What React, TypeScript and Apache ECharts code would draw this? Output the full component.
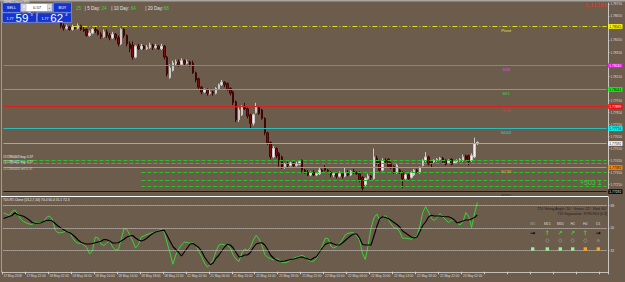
import React, { useEffect, useRef } from 'react';
import * as echarts from 'echarts';

// ---------- data ----------
const candles: number[][] = [
  [1.7868,1.7870,1.7867,1.7872],[1.7870,1.7867,1.7866,1.7871],[1.7867,1.7869,1.7866,1.7870],[1.7869,1.7866,1.7865,1.7870],
  [1.7866,1.7867,1.7864,1.7868],[1.7867,1.7868,1.7866,1.7869],[1.7868,1.7865,1.7864,1.7869],[1.7865,1.7867,1.7864,1.7868],
  [1.7867,1.7866,1.7864,1.7868],[1.7866,1.7869,1.7865,1.7871],[1.7869,1.7868,1.7867,1.7871],[1.7868,1.7866,1.7864,1.7869],
  [1.7866,1.7867,1.7865,1.7868],[1.7867,1.7865,1.7864,1.7868],[1.7865,1.7866,1.7864,1.7867],[1.7866,1.7864,1.7863,1.7867],
  [1.7864,1.7866,1.7863,1.7867],[1.7866,1.7864,1.7863,1.7867],[1.7864,1.7862,1.7861,1.7865],[1.7862,1.7861,1.7860,1.7863],
  [1.7861,1.7857,1.7855,1.7862],[1.7857,1.7855,1.7853,1.7859],[1.7855,1.7856,1.7854,1.7858],[1.7856,1.7854,1.7853,1.7857],
  [1.7854,1.7856,1.7853,1.7858],[1.7856,1.7855,1.7854,1.7857],[1.7855,1.7857,1.7854,1.7859],[1.7857,1.7854,1.7853,1.7858],
  [1.7854,1.7853,1.7852,1.7856],[1.7854,1.7849,1.7848,1.7855],[1.7849,1.7851,1.7848,1.7853],[1.7851,1.7854,1.7850,1.7855],
  [1.7854,1.7853,1.7851,1.7856],[1.7853,1.7850,1.7849,1.7854],[1.7850,1.7848,1.7846,1.7852],[1.7848,1.7852,1.7847,1.7854],
  [1.7852,1.7849,1.7847,1.7854],[1.7849,1.7847,1.7845,1.7851],[1.7847,1.7850,1.7846,1.7852],[1.7850,1.7847,1.7845,1.7851],
  [1.7847,1.7842,1.7840,1.7849],[1.7842,1.7854,1.7841,1.7855],[1.7854,1.7849,1.7847,1.7855],[1.7849,1.7842,1.7840,1.7850],
  [1.7842,1.7838,1.7835,1.7844],[1.7841,1.7831,1.7829,1.7844],[1.7831,1.7840,1.7830,1.7841],[1.7840,1.7838,1.7837,1.7842],
  [1.7838,1.7840,1.7837,1.7842],[1.7840,1.7838,1.7837,1.7841],[1.7838,1.7839,1.7837,1.7841],[1.7839,1.7841,1.7838,1.7843],
  [1.7841,1.7839,1.7837,1.7842],[1.7839,1.7840,1.7838,1.7842],[1.7840,1.7838,1.7837,1.7841],[1.7838,1.7840,1.7837,1.7842],
  [1.7840,1.7831,1.7829,1.7841],[1.7831,1.7817,1.7815,1.7832],[1.7814,1.7822,1.7813,1.7825],[1.7820,1.7826,1.7819,1.7828],
  [1.7826,1.7827,1.7824,1.7829],[1.7827,1.7825,1.7823,1.7829],[1.7825,1.7828,1.7824,1.7830],[1.7828,1.7826,1.7824,1.7829],
  [1.7826,1.7827,1.7825,1.7829],[1.7827,1.7825,1.7823,1.7828],[1.7826,1.7818,1.7817,1.7828],[1.7818,1.7812,1.7810,1.7819],
  [1.7813,1.7806,1.7804,1.7814],[1.7806,1.7802,1.7800,1.7807],[1.7802,1.7804,1.7801,1.7805],[1.7804,1.7801,1.7799,1.7805],
  [1.7801,1.7802,1.7800,1.7804],[1.7802,1.7801,1.7799,1.7803],[1.7801,1.7805,1.7800,1.7806],[1.7805,1.7808,1.7804,1.7809],
  [1.7808,1.7810,1.7807,1.7812],[1.7810,1.7808,1.7806,1.7811],[1.7809,1.7804,1.7803,1.7810],[1.7805,1.7801,1.7799,1.7806],
  [1.7802,1.7793,1.7791,1.7803],[1.7794,1.7779,1.7777,1.7795],[1.7779,1.7787,1.7777,1.7789],[1.7783,1.7789,1.7782,1.7791],
  [1.7789,1.7788,1.7787,1.7793],[1.7788,1.7782,1.7780,1.7789],[1.7783,1.7776,1.7772,1.7784],[1.7776,1.7783,1.7774,1.7784],
  [1.7785,1.7789,1.7784,1.7793],[1.7789,1.7784,1.7783,1.7790],[1.7787,1.7780,1.7779,1.7788],[1.7780,1.7768,1.7766,1.7781],
  [1.7768,1.7760,1.7758,1.7769],[1.7760,1.7748,1.7746,1.7761],[1.7748,1.7755,1.7747,1.7757],[1.7755,1.7749,1.7747,1.7756],
  [1.7751,1.7745,1.7740,1.7752],[1.7748,1.7739,1.7738,1.7749],[1.7740,1.7742,1.7738,1.7743],[1.7742,1.7741,1.7739,1.7744],
  [1.7741,1.7743,1.7740,1.7744],[1.7743,1.7741,1.7739,1.7744],[1.7741,1.7742,1.7740,1.7744],[1.7742,1.7744,1.7741,1.7745],
  [1.7745,1.7737,1.7735,1.7746],[1.7737,1.7735,1.7734,1.7738],[1.7735,1.7733,1.7732,1.7737],[1.7733,1.7735,1.7732,1.7736],
  [1.7735,1.7733,1.7732,1.7737],[1.7733,1.7734,1.7732,1.7735],[1.7734,1.7737,1.7733,1.7739],[1.7737,1.7736,1.7735,1.7738],
  [1.7739,1.7737,1.7736,1.7741],[1.7737,1.7736,1.7735,1.7738],[1.7735,1.7733,1.7731,1.7736],[1.7733,1.7734,1.7731,1.7735],
  [1.7734,1.7732,1.7730,1.7735],[1.7732,1.7734,1.7731,1.7736],[1.7734,1.7732,1.7730,1.7735],[1.7732,1.7735,1.7731,1.7739],
  [1.7735,1.7733,1.7732,1.7737],[1.7733,1.7736,1.7732,1.7737],[1.7736,1.7735,1.7734,1.7738],[1.7735,1.7734,1.7733,1.7736],
  [1.7734,1.7729,1.7727,1.7736],[1.7731,1.7722,1.7720,1.7732],[1.7725,1.7730,1.7723,1.7731],[1.7730,1.7732,1.7729,1.7734],
  [1.7732,1.7731,1.7729,1.7733],[1.7730,1.7748,1.7729,1.7755],[1.7747,1.7743,1.7741,1.7749],[1.7744,1.7737,1.7736,1.7745],
  [1.7737,1.7745,1.7736,1.7747],[1.7745,1.7744,1.7743,1.7747],[1.7746,1.7740,1.7739,1.7747],[1.7743,1.7739,1.7738,1.7744],
  [1.7740,1.7735,1.7734,1.7741],[1.7735,1.7741,1.7734,1.7742],[1.7737,1.7735,1.7734,1.7738],[1.7735,1.7730,1.7722,1.7736],
  [1.7730,1.7733,1.7729,1.7734],[1.7733,1.7730,1.7729,1.7734],[1.7731,1.7735,1.7730,1.7736],[1.7733,1.7737,1.7732,1.7738],
  [1.7737,1.7736,1.7735,1.7738],[1.7735,1.7739,1.7734,1.7740],[1.7741,1.7745,1.7740,1.7746],[1.7745,1.7748,1.7744,1.7752],
  [1.7748,1.7742,1.7741,1.7749],[1.7744,1.7743,1.7739,1.7745],[1.7744,1.7745,1.7743,1.7746],[1.7745,1.7746,1.7744,1.7747],
  [1.7746,1.7747,1.7745,1.7748],[1.7747,1.7744,1.7743,1.7748],[1.7745,1.7742,1.7741,1.7746],[1.7743,1.7745,1.7742,1.7746],
  [1.7746,1.7742,1.7741,1.7747],[1.7743,1.7744,1.7742,1.7745],[1.7744,1.7745,1.7743,1.7746],[1.7745,1.7746,1.7744,1.7747],
  [1.7745,1.7748,1.7744,1.7750],[1.7749,1.7746,1.7745,1.7750],[1.7749,1.7744,1.7741,1.7750],[1.7745,1.7749,1.7744,1.7751],
  [1.7748,1.7759,1.7747,1.7764],[1.7759,1.7760,1.7758,1.7761],
];

const tdiGreen = [
  62.0,61.2,60.0,63.2,64.4,60.8,57.2,55.2,54.0,53.2,
  52.8,54.8,54.4,54.0,55.2,58.6,59.6,57.2,48.4,46.2,
  46.2,46.8,47.6,46.8,42.4,39.2,37.8,37.8,36.4,34.4,
  29.2,32.0,42.8,42.0,37.2,36.0,38.0,39.6,34.8,32.4,
  32.8,40.8,49.6,48.8,44.4,39.6,34.0,36.8,42.8,43.8,
  44.8,45.6,46.4,46.8,48.0,48.8,46.8,38.0,30.0,21.0,
  28.4,33.2,36.4,38.8,38.4,37.8,38.0,36.0,31.2,27.2,
  22.0,18.8,20.8,24.4,31.2,36.4,37.2,36.4,36.0,34.0,
  28.4,24.8,23.2,30.0,33.2,32.0,34.4,40.4,44.2,41.2,
  36.0,28.8,26.4,25.6,24.4,25.8,24.6,22.4,22.2,23.0,
  24.4,25.8,26.6,27.4,28.2,26.8,24.4,23.6,23.4,25.8,
  30.0,35.6,41.8,41.6,35.6,34.0,35.2,37.6,40.4,44.6,
  45.8,46.2,46.2,43.6,40.4,29.6,24.8,36.4,50.0,58.0,
  61.2,56.4,58.4,60.0,57.2,53.2,50.2,49.8,46.8,41.8,
  41.8,41.6,41.0,42.6,43.6,51.6,62.4,67.2,62.8,57.6,
  56.0,58.4,61.6,59.0,56.4,54.4,56.4,56.4,53.8,52.4,
  55.0,62.4,59.2,50.4,61.2,70.4,
];

const tdiBlack = [
  57.6,58.4,59.2,60.0,62.2,60.6,60.0,59.4,58.0,56.4,
  54.4,53.8,53.8,54.0,55.2,56.0,56.2,55.6,53.6,51.6,
  50.0,48.6,47.2,46.4,44.8,42.8,40.4,38.6,37.6,37.2,
  37.2,37.6,38.2,38.8,39.4,40.8,40.6,39.6,38.0,38.0,
  38.2,39.6,41.0,42.8,43.6,44.0,42.0,40.4,39.6,40.4,
  42.0,44.0,45.6,46.8,47.4,48.0,48.2,44.0,39.6,35.2,
  32.8,30.4,27.6,30.8,34.0,37.2,37.6,36.0,34.4,31.6,
  26.8,23.6,20.6,22.0,25.8,28.2,31.6,34.8,37.0,36.4,
  34.0,30.4,26.8,27.2,28.4,28.4,30.4,34.4,37.2,38.0,
  38.2,36.4,32.8,28.4,26.0,24.4,23.6,23.2,23.6,24.2,
  24.8,25.2,25.8,26.6,26.8,26.0,25.2,24.4,26.0,27.0,
  30.4,34.0,36.8,38.0,38.2,37.2,36.4,36.4,38.0,40.0,
  42.0,44.0,45.2,45.2,42.0,36.8,36.4,36.4,36.4,43.6,
  51.2,57.2,59.0,58.4,57.6,56.0,54.4,52.8,50.8,47.6,
  46.0,44.4,42.8,42.0,42.8,47.2,52.0,54.8,58.8,60.2,
  59.6,59.6,59.6,59.2,59.0,59.0,58.0,56.4,54.0,54.8,
  55.6,56.4,56.4,57.2,58.4,60.4,
];

const timeLabels = [
  '17 May 2018','17 May 22:00','18 May 02:00','18 May 06:00','18 May 10:00','18 May 14:00','18 May 18:00',
  '18 May 22:00','21 May 02:00','21 May 06:00','21 May 10:00','21 May 14:00','21 May 18:00','21 May 22:00',
  '22 May 02:00','22 May 06:00','22 May 10:00','22 May 14:00','22 May 18:00','22 May 22:00','23 May 02:00',
];

// price-scale ticks; the labels under the level boxes are hidden in the reference
const priceTicks = [1.7875,1.7865,1.7855,1.7845,1.7835,1.7825,1.7815,1.7805,1.7795,1.7785,1.7775,1.7765,1.7755,1.7745,1.7735,1.7725];
const priceTickLabels = [1.7875,1.7865,1.7845,1.7835,1.7815,1.7795,1.7785,1.7775,1.7765,1.7755,1.7745,1.7735,1.7725];

const fibNames = ['Pivot','S38','S61','S78','S100','S138','S161'];
const fibLevels = [1.78565,1.78240,1.78041,1.77899,1.77716,1.77392,1.77192];
const bidPrice = 1.77592;
const orderLevelsFull = [1.77450,1.77425];
const orderLevelsPartial = [1.77350,1.77284,1.77234];
const tdiLevels = [68,50,32];

const tfNames = ['M5','M15','M30','H1','H4','D1'];
const tfArrows = ['→','↑','↗','↗','↑','→'];
const tfBoxes = ['up','up','up','up','down','down'];

// ---------- styles / layout ----------
const FONT = '"Liberation Sans", Arial, sans-serif';
const BG = '#6c5c4c';
const SLOTS = 211;
const PIVOT_START = 24;
const PARTIAL_START = 48;
const NAME_SLOT = 175;
const fibStyles = [
  { line: '#dcdc20', type: [5, 2, 1, 2], text: '#e6e63a', box: '#ffff00', boxText: '#000' },
  { line: '#dc48dc', type: 'solid', text: '#d455d4', box: '#ff00ff', boxText: '#fff' },
  { line: '#46c846', type: 'solid', text: '#4cc84c', box: '#00ff00', boxText: '#000' },
  { line: '#dc1e1e', type: 'solid', text: '#e03434', box: '#ff0000', boxText: '#fff' },
  { line: '#2cbcbc', type: 'solid', text: '#44cccc', box: '#00ffff', boxText: '#000' },
  { line: '#e08c2c', type: 'solid', text: '#eb9c42', box: '#ff8c00', boxText: '#000' },
  { line: '#1a1a1a', type: 'solid', text: '#1c1c1c', box: '#000000', boxText: '#fff' },
];
const tfX = [532.7, 547.3, 560.3, 572.7, 585.3, 598.3];

export default function App() {
  const ref = useRef<HTMLDivElement>(null);
  useEffect(() => {
    if (!ref.current) return;
    const chart = echarts.init(ref.current, undefined, { renderer: 'svg' });
    const cats = Array.from({ length: SLOTS }, (_, i) => String(i));

    const boxLabel = (v: number, box: string, txt: string) => ({
      show: true, position: 'end', distance: 1.6, formatter: v.toFixed(5), color: txt,
      backgroundColor: box, padding: [0.6, 1.2, 0.4, 1.2], fontSize: 3.3, fontFamily: FONT, lineHeight: 3.6,
    });
    const seg = (start: number, v: number, lineStyle: any, label: any) =>
      [{ coord: [start, v], lineStyle, label }, { coord: [SLOTS - 1, v] }];

    const mlData: any[] = [];
    orderLevelsFull.forEach((v) => mlData.push(seg(0, v, { color: '#27c427', width: 1, type: [4, 2] }, { show: false })));
    orderLevelsPartial.forEach((v) => mlData.push(seg(PARTIAL_START, v, { color: '#27c427', width: 1, type: [4, 2] }, { show: false })));
    mlData.push(seg(0, bidPrice, { color: '#a6a6a6', width: 1, type: 'solid' }, boxLabel(bidPrice, '#ffffff', '#000')));
    fibLevels.forEach((v, k) => {
      const s = fibStyles[k];
      mlData.push(seg(k === 0 ? PIVOT_START : 0, v, { color: s.line, type: s.type, width: 1 }, boxLabel(v, s.box, s.boxText)));
    });

    const mpData = fibLevels.map((v, k) => ({
      coord: [NAME_SLOT, v], symbol: 'circle', symbolSize: 0,
      label: { show: true, position: 'inside', offset: [0, 3.6], formatter: fibNames[k], color: fibStyles[k].text, fontSize: 4.4, fontFamily: FONT },
    }));

    const txt = (x: number, y: number, text: string, fill: string, size: number, align = 'left', extra: any = {}) => ({
      type: 'text', x, y, z: 100,
      style: { text, fill, font: `${extra.weight || 'normal'} ${size}px ${extra.family || FONT}`, textAlign: align, textVerticalAlign: 'middle' },
    });
    const BLUE = '#1434cc';
    const graphic: any[] = [
      { type: 'rect', z: 90, shape: { x: 0, y: 0, width: 625, height: 1.6 }, style: { fill: '#aba69f' } },
      { type: 'line', z: 90, shape: { x1: 1.5, y1: 1.5, x2: 1.5, y2: 272 }, style: { stroke: '#a19c95', lineWidth: 1 } },
      { type: 'line', z: 90, shape: { x1: 1, y1: 196.5, x2: 608, y2: 196.5 }, style: { stroke: '#ffffff', lineWidth: 1 } },
      // trading panel
      { type: 'rect', z: 95, shape: { x: 2.5, y: 2.8, width: 18, height: 9.6 }, style: { fill: BLUE, stroke: '#8ea4ff', lineWidth: 0.6 } },
      txt(11.5, 7.6, 'SELL', '#ffffff', 3.8, 'center'),
      { type: 'rect', z: 95, shape: { x: 21, y: 3.4, width: 31.5, height: 8.2 }, style: { fill: '#ffffff', stroke: '#5d78e8', lineWidth: 0.6 } },
      { type: 'rect', z: 96, shape: { x: 22, y: 4.6, width: 4, height: 5.8 }, style: { fill: '#e4e4e4', stroke: '#8a8a8a', lineWidth: 0.4 } },
      { type: 'rect', z: 96, shape: { x: 47.5, y: 4.6, width: 4, height: 5.8 }, style: { fill: '#e4e4e4', stroke: '#8a8a8a', lineWidth: 0.4 } },
      txt(24, 7.5, '-', '#222', 4, 'center'),
      txt(49.5, 7.5, '+', '#222', 4, 'center'),
      txt(37, 7.6, '0.57', '#111111', 4, 'center'),
      { type: 'rect', z: 95, shape: { x: 53.5, y: 2.8, width: 18, height: 9.6 }, style: { fill: BLUE, stroke: '#8ea4ff', lineWidth: 0.6 } },
      txt(62.5, 7.6, 'BUY', '#ffffff', 3.8, 'center'),
      { type: 'rect', z: 95, shape: { x: 2.5, y: 12.8, width: 34, height: 9.6 }, style: { fill: BLUE, stroke: '#8ea4ff', lineWidth: 0.6 } },
      { type: 'rect', z: 95, shape: { x: 37.3, y: 12.8, width: 34.3, height: 9.6 }, style: { fill: BLUE, stroke: '#8ea4ff', lineWidth: 0.6 } },
      txt(6.5, 18.8, '1.77', '#ffffff', 3.6),
      txt(15.5, 17.8, '59', '#ffffff', 11.5),
      txt(30.5, 15.4, '3', '#ffffff', 3.8),
      txt(41.5, 18.8, '1.77', '#ffffff', 3.6),
      txt(50.3, 17.8, '62', '#ffffff', 11.5),
      txt(65.3, 15.4, '4', '#ffffff', 3.8),
      txt(3, 1.4, 'GBPAUDmicro,M30', '#ececec', 3),
      // day range
      txt(76, 8.4, '25', '#3ed23e', 4.5),
      txt(84.8, 8.4, '| 5 Day:', '#e2e2e2', 4.5),
      txt(101.4, 8.4, '24', '#3ed23e', 4.5),
      txt(111.3, 8.4, '| 10 Day:', '#e2e2e2', 4.5),
      txt(130.8, 8.4, '64', '#3ed23e', 4.5),
      txt(145.3, 8.4, '| 20 Day:', '#e2e2e2', 4.5),
      txt(163.8, 8.4, '68', '#3ed23e', 4.5),
      // top right red value
      txt(607, 5.4, '1.11561', '#ff2a2a', 7, 'right', { family: '"Liberation Serif", serif' }),
      // order labels
      txt(3, 157.3, '#17280443 buy 0.37', '#f2f2f2', 3.3),
      txt(3, 162.2, '#17280442 buy 0.37', '#f2f2f2', 3.3),
      txt(3, 168.8, '#17280444 sell 0.37', '#c9c9c9', 3.3),
      txt(580, 182, '+503 1', '#3ec83e', 7),
      // indicator texts
      txt(3, 200.3, 'TDI-RT-Clone (13,2,7,34) 70.4 60.4 55.1 72.3', '#e6e6e6', 3.3),
      txt(607, 208.8, 'TDI Voting Angle: 50°  Green: 22°  Red: 60°', '#1e1e1e', 3.6, 'right'),
      txt(607, 214.3, 'TDI Separation: STRONG [0.3]', '#1e1e1e', 3.6, 'right'),
    ];
    tfNames.forEach((n, k) => {
      const x = tfX[k];
      graphic.push(txt(x, 224.3, n, k === 0 ? '#a9a097' : '#d6d6d6', 3.5, 'center'));
      graphic.push(txt(x, 232.3, tfArrows[k], tfArrows[k] === '→' ? '#000000' : '#22e022', 6, 'center', { weight: 'bold', family: '"DejaVu Sans", sans-serif' }));
      if (k === 0) graphic.push(txt(x, 240.6, '+', '#8d8d8d', 4, 'center'));
      else if (k === 5) graphic.push({ type: 'circle', z: 100, shape: { cx: x, cy: 240.6, r: 1.7 }, style: { fill: '#7b7b7b' } });
      else graphic.push({ type: 'circle', z: 100, shape: { cx: x, cy: 240.6, r: 1.6 }, style: { fill: 'none', stroke: '#8e8e8e', lineWidth: 0.8 } });
      graphic.push({ type: 'rect', z: 100, shape: { x: x - 1.7, y: 247.3, width: 3.4, height: 3.4 }, style: { fill: tfBoxes[k] === 'up' ? '#98f098' : '#ffa31a' } });
    });

    const option: any = {
      animation: false,
      backgroundColor: BG,
      textStyle: { fontFamily: FONT },
      grid: [
        { left: 2, top: 3, width: 606, height: 190 },
        { left: 2, top: 196.75, width: 606, height: 75 },
      ],
      xAxis: [
        { type: 'category', gridIndex: 0, data: cats, boundaryGap: true, axisLine: { show: false }, axisTick: { show: false }, axisLabel: { show: false }, splitLine: { show: false } },
        {
          type: 'category', gridIndex: 1, data: cats, boundaryGap: true,
          axisLine: { show: true, lineStyle: { color: '#c2bdb6', width: 1 } },
          axisTick: { show: true, interval: 7, length: 2.5, lineStyle: { color: '#d0d0d0' } },
          axisLabel: { show: true, interval: 7, align: 'left', margin: 2.6, fontSize: 3.2, color: '#dcdcdc', fontFamily: FONT,
            formatter: (_v: string, i: number) => timeLabels[i / 8] ?? '' },
          splitLine: { show: false },
        },
      ],
      yAxis: [
        {
          type: 'value', gridIndex: 0, position: 'right', min: 1.7718, max: 1.7876,
          axisLine: { show: true, lineStyle: { color: '#c9c5bf', width: 1 } },
          axisTick: { show: true, length: 1.5, customValues: priceTicks, lineStyle: { color: '#c9c5bf' } },
          axisLabel: { show: true, customValues: priceTickLabels, formatter: (v: number) => v.toFixed(5), fontSize: 3.2, color: '#dcdcdc', margin: 2.4, fontFamily: FONT },
          splitLine: { show: false },
        },
        {
          type: 'value', gridIndex: 1, position: 'right', min: 15, max: 75,
          axisLine: { show: true, lineStyle: { color: '#c9c5bf', width: 1 } },
          axisTick: { show: true, length: 1.5, customValues: tdiLevels, lineStyle: { color: '#c9c5bf' } },
          axisLabel: { show: true, customValues: tdiLevels, formatter: (v: number) => String(v), fontSize: 3.4, color: '#dcdcdc', margin: 2.4, fontFamily: FONT },
          splitLine: { show: false },
        },
      ],
      series: [
        {
          type: 'candlestick', xAxisIndex: 0, yAxisIndex: 0, data: candles, barWidth: 2,
          itemStyle: { color: '#f2f2f2', color0: '#7e0c0c', borderColor: '#c9c9c9', borderColor0: '#3e0707', borderWidth: 1 },
          markLine: { silent: true, symbol: ['none', 'none'], animation: false, data: mlData },
          markPoint: { silent: true, animation: false, data: mpData },
          z: 3,
        },
        {
          type: 'line', xAxisIndex: 1, yAxisIndex: 1, data: tdiGreen, showSymbol: false, symbol: 'none',
          lineStyle: { color: '#3bd23b', width: 1 },
          markLine: { silent: true, symbol: ['none', 'none'], animation: false, label: { show: false },
            lineStyle: { color: '#d2d2d2', type: 'dotted', width: 1 }, data: tdiLevels.map((v) => seg(0, v, undefined, { show: false })) },
        },
        {
          type: 'line', xAxisIndex: 1, yAxisIndex: 1, data: tdiBlack, showSymbol: false, symbol: 'none',
          lineStyle: { color: '#000000', width: 1.1 },
        },
      ],
      graphic,
    };
    chart.setOption(option);
    return () => chart.dispose();
  }, []);
  return <div ref={ref} style={{ position: 'fixed', left: 0, top: 0, width: 625, height: 282 }} />;
}
